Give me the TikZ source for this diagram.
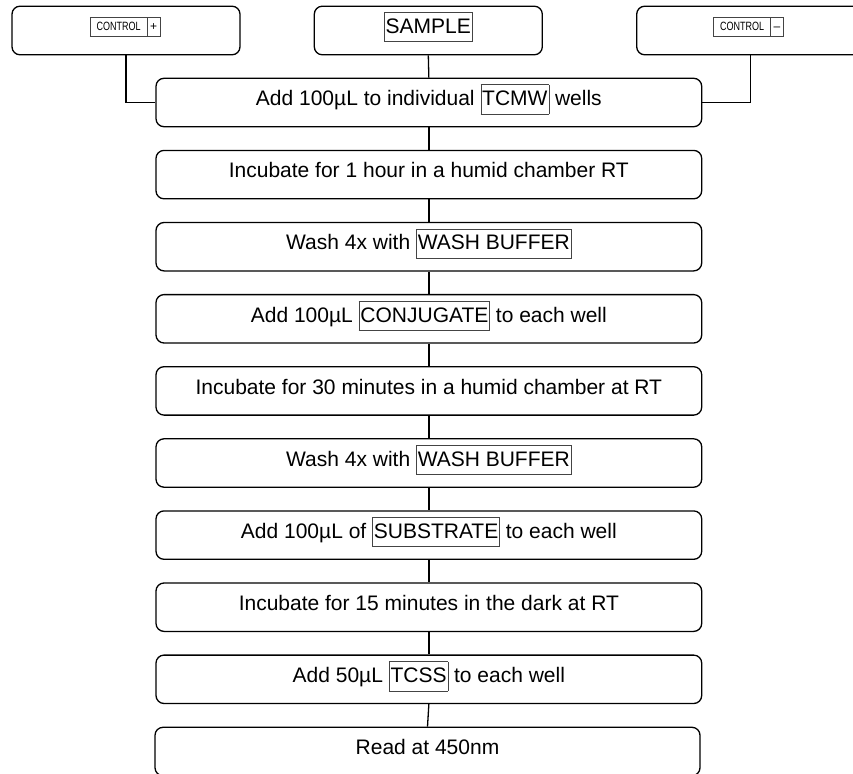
\documentclass[tikz,border=0pt]{standalone}
\usepackage{fontspec}
\setmainfont{Liberation Sans}
\usepackage{graphicx}
\definecolor{fgray}{HTML}{444444}
\newcommand\wbox[1]{{\setlength\fboxsep{1pt}\setlength\fboxrule{0.7pt}\fcolorbox{fgray}{white}{\rule[-7pt]{0pt}{26.5pt}#1}}}
\newcommand\cbox[2]{{\setlength\fboxsep{1.5pt}\setlength\fboxrule{0.7pt}\fcolorbox{fgray}{white}{\rule[-4pt]{0pt}{15pt}\hspace{#1}#2\hspace{#1}}}}
\begin{document}
\begin{tikzpicture}[x=1pt,y=-1pt,
  stepbox/.style={draw, line width=1.3pt, rounded corners=8pt, minimum width=545.7pt, minimum height=48.4pt, inner sep=0pt, font=\fontsize{21}{25}\selectfont, text height=15pt, text depth=8.6pt},
  topbox/.style={draw, line width=1.3pt, rounded corners=8pt, minimum width=228pt, minimum height=48.6pt, inner sep=0pt},
  biglbl/.style={anchor=base, inner sep=0pt, font=\fontsize{21}{25}\selectfont},
  smalllbl/.style={anchor=base, inner sep=0pt, font=\fontsize{12}{14}\selectfont},
  link/.style={line width=1.3pt}]
\useasboundingbox (0,0) rectangle (853,773);
% top boxes
\node[topbox] (cp) at (126,30.5) {};
\node[topbox] (sa) at (428.3,30.5) {};
\node[topbox] (cm) at (750.7,30.5) {};
\node[smalllbl] (cpl) at (125.3,30.6) {\cbox{4.5pt}{\scalebox{0.75}[1]{CONTROL}}\hspace{-0.7pt}\cbox{1.3pt}{+}};
\node[biglbl] (sal) at (428.3,33.2) {\wbox{SAMPLE}};
\node[smalllbl] (cml) at (748.5,30.6) {\cbox{4.5pt}{\scalebox{0.75}[1]{CONTROL}}\hspace{-0.7pt}\cbox{1.3pt}{–}};
% steps
\node[stepbox] (s1) at (428.85,102.5) {Add 100µL to individual \wbox{TCMW} wells};
\node[stepbox] (s2) at (428.85,174.6) {Incubate for 1 hour in a humid chamber RT};
\node[stepbox] (s3) at (428.85,246.7) {Wash 4x with \wbox{WASH BUFFER}};
\node[stepbox] (s4) at (428.85,318.8) {Add 100µL \wbox{CONJUGATE} to each well};
\node[stepbox] (s5) at (428.85,390.9) {Incubate for 30 minutes in a humid chamber at RT};
\node[stepbox] (s6) at (428.85,463.0) {Wash 4x with \wbox{WASH BUFFER}};
\node[stepbox] (s7) at (428.85,535.1) {Add 100µL of \wbox{SUBSTRATE} to each well};
\node[stepbox] (s8) at (428.85,607.2) {Incubate for 15 minutes in the dark at RT};
\node[stepbox] (s9) at (428.85,679.3) {Add 50µL \wbox{TCSS} to each well};
\node[stepbox, minimum width=545pt] (s10) at (427.5,751.5) {Read at 450nm};
% connectors
\draw[link] (cp.south) |- (s1.west);
\draw[link] (cm.south) |- (s1.east);
\draw[link] (sa.south) -- (s1.north);
\draw[link] (s1.south) -- (s2.north);
\draw[link] (s2.south) -- (s3.north);
\draw[link] (s3.south) -- (s4.north);
\draw[link] (s4.south) -- (s5.north);
\draw[link] (s5.south) -- (s6.north);
\draw[link] (s6.south) -- (s7.north);
\draw[link] (s7.south) -- (s8.north);
\draw[link] (s8.south) -- (s9.north);
\draw[link] (s9.south) -- (s10.north);
\end{tikzpicture}
\end{document}
